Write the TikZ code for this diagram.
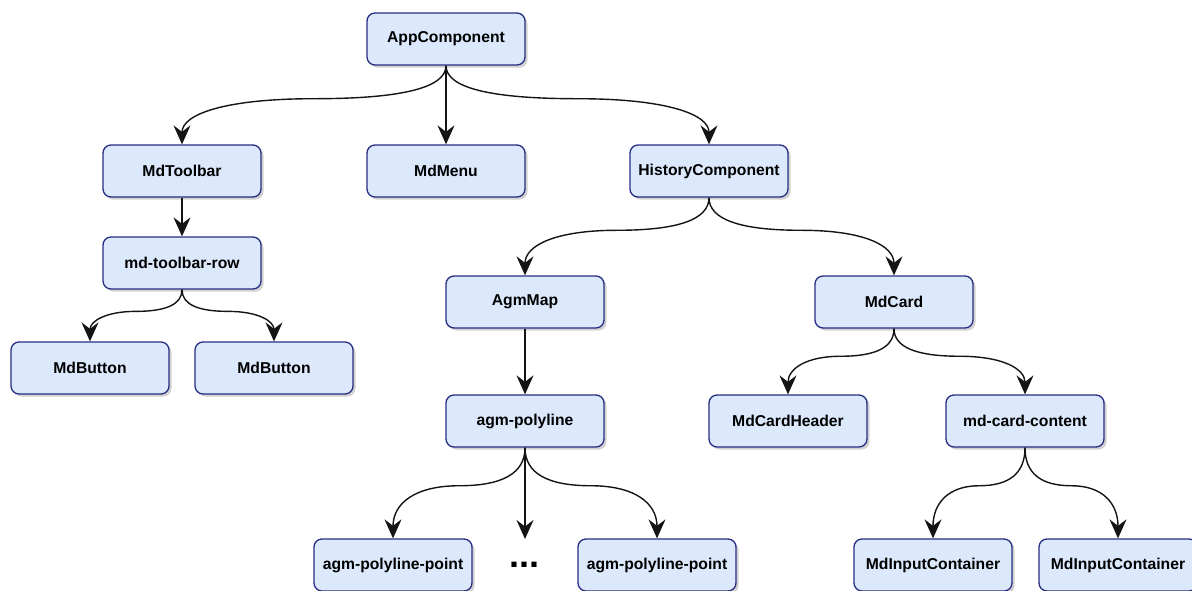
\documentclass[tikz,border=0pt]{standalone}
\usepackage{fontspec}
\setmainfont{Liberation Sans}
\usetikzlibrary{arrows.meta,shadows,calc}
\definecolor{boxfill}{HTML}{DCE9FC}
\definecolor{boxline}{RGB}{40,45,130}
\definecolor{edgecol}{HTML}{141414}
\tikzset{
  comp/.style={draw=boxline, fill=boxfill, line width=1.3pt, rounded corners=8pt,
    minimum width=158pt, minimum height=52pt, inner sep=0pt,
    font=\fontsize{15.7}{18}\selectfont\bfseries, text=black,
    drop shadow={shadow xshift=2.5pt, shadow yshift=-2.5pt, opacity=0.18, fill=black}},
  link/.style={draw=edgecol, line width=1.4pt,
    -{Stealth[length=19pt,width=17pt,inset=6.5pt]}},
  scurve/.style={to path={
    let \p1=(\tikztostart), \p2=(\tikztotarget),
        \n1={\y1+0.42*(\y2-\y1)}, \n2={(\x1+\x2)/2},
        \n3={\y1+0.6667*(\n1-\y1)}, \n4={\n2+0.6667*(\x1-\n2)},
        \n5={\n2+0.6667*(\x2-\n2)}, \n6={\y2+0.6667*(\n1-\y2)} in
    .. controls (\x1,\n3) and (\n4,\n1) .. (\n2,\n1)
    .. controls (\n5,\n1) and (\x2,\n6) .. (\tikztotarget) \tikztonodes}}
}
\begin{document}
\begin{tikzpicture}[x=1pt,y=-1pt]
\useasboundingbox (0,0) rectangle (1192,590);
% nodes
\node[comp] (app)  at (446,39)  {AppComponent};
\node[comp] (tb)   at (182,171) {MdToolbar};
\node[comp] (menu) at (446,171) {MdMenu};
\node[comp] (hist) at (709,171) {HistoryComponent};
\node[comp] (tbr)  at (182,263) {md-toolbar-row};
\node[comp] (btn1) at (90,368)  {MdButton};
\node[comp] (btn2) at (274,368) {MdButton};
\node[comp] (map)  at (525,302) {AgmMap};
\node[comp] (card) at (894,302) {MdCard};
\node[comp] (poly) at (525,421) {agm-polyline};
\node[comp] (chead) at (788,421) {MdCardHeader};
\node[comp] (ccont) at (1025,421) {md-card-content};
\node[comp] (pt1)  at (393,565) {agm-polyline-point};
\node[comp] (pt2)  at (657,565) {agm-polyline-point};
\node[comp] (in1)  at (933,565) {MdInputContainer};
\node[comp] (in2)  at (1118,565) {MdInputContainer};
\node[anchor=base, inner sep=0pt, font=\fontsize{36}{36}\selectfont\bfseries] (dots) at (524,567) {...};
\coordinate (dotsend) at (525,539);
% edges
\draw[link, scurve] (app.south) to (tb.north);
\draw[link] (app.south) -- (menu.north);
\draw[link, scurve] (app.south) to (hist.north);
\draw[link] (tb.south) -- (tbr.north);
\draw[link, scurve] (tbr.south) to (btn1.north);
\draw[link, scurve] (tbr.south) to (btn2.north);
\draw[link, scurve] (hist.south) to (map.north);
\draw[link, scurve] (hist.south) to (card.north);
\draw[link] (map.south) -- (poly.north);
\draw[link, scurve] (card.south) to (chead.north);
\draw[link, scurve] (card.south) to (ccont.north);
\draw[link, scurve] (poly.south) to (pt1.north);
\draw[link] (poly.south) -- (dotsend);
\draw[link, scurve] (poly.south) to (pt2.north);
\draw[link, scurve] (ccont.south) to (in1.north);
\draw[link, scurve] (ccont.south) to (in2.north);
\end{tikzpicture}
\end{document}
